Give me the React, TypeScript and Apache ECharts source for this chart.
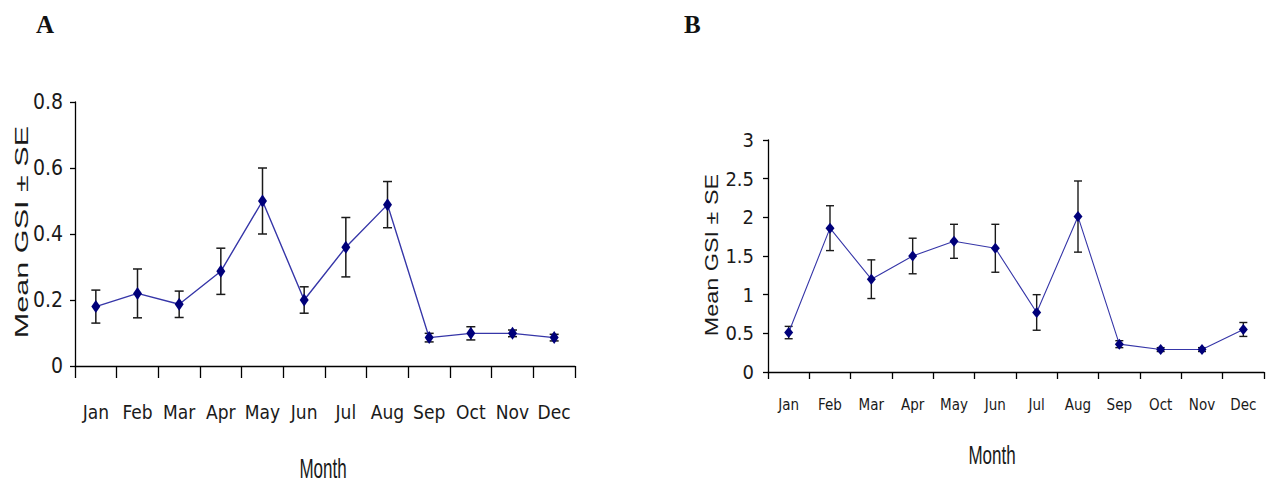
import React, { useEffect, useRef } from "react";
import * as echarts from "echarts";

const months = ["Jan", "Feb", "Mar", "Apr", "May", "Jun", "Jul", "Aug", "Sep", "Oct", "Nov", "Dec"];

// Panel A
const meanA = [0.18, 0.22, 0.187, 0.287, 0.5, 0.2, 0.36, 0.489, 0.086, 0.099, 0.099, 0.086];
const seA = [0.05, 0.074, 0.04, 0.07, 0.1, 0.04, 0.09, 0.07, 0.013, 0.02, 0.01, 0.01];
const ticksA = { min: 0, max: 0.8, interval: 0.2 };

// Panel B
const meanB = [0.51, 1.86, 1.2, 1.5, 1.69, 1.6, 0.77, 2.01, 0.36, 0.29, 0.29, 0.55];
const seB = [0.08, 0.29, 0.25, 0.23, 0.22, 0.31, 0.23, 0.46, 0.045, 0.025, 0.025, 0.09];
const ticksB = { min: 0, max: 3, interval: 0.5 };

const yTitle = "Mean GSI ± SE";
const xTitle = "Month";

const NARROW = "'Liberation Sans Narrow', 'DejaVu Sans Condensed', 'Arial Narrow', Arial, sans-serif";
const SANS = "'Liberation Sans', Arial, sans-serif";

function errData(mean: number[], se: number[]) {
  return mean.map((m, i) => [i, m - se[i], m + se[i]]);
}

function errRender(capHalf: number, width: number) {
  return (params: any, api: any) => {
    const x = api.value(0);
    const lo = api.coord([x, api.value(1)]);
    const hi = api.coord([x, api.value(2)]);
    const st = { stroke: "#1a1a1a", lineWidth: width };
    return {
      type: "group",
      children: [
        { type: "line", shape: { x1: hi[0], y1: hi[1], x2: lo[0], y2: lo[1] }, style: st },
        { type: "line", shape: { x1: hi[0] - capHalf, y1: hi[1], x2: hi[0] + capHalf, y2: hi[1] }, style: st },
        { type: "line", shape: { x1: lo[0] - capHalf, y1: lo[1], x2: lo[0] + capHalf, y2: lo[1] }, style: st },
      ],
    };
  };
}

export default function App() {
  const ref = useRef<HTMLDivElement>(null);
  useEffect(() => {
    if (!ref.current) return;
    const chart = echarts.init(ref.current, null, { renderer: "svg" });
    const axisLine = { show: true, lineStyle: { color: "#000", width: 1.3 } };
    const fmt = (v: number) => (v === 0 ? "0" : String(Math.round(v * 10) / 10));
    chart.setOption({
      animation: false,
      backgroundColor: "#fff",
      grid: [
        { left: 75, top: 102, width: 500, height: 264 },
        { left: 768, top: 140, width: 496, height: 232 },
      ],
      xAxis: [
        {
          type: "category", gridIndex: 0, data: months, boundaryGap: true,
          axisLine, axisTick: { show: true, length: 12, lineStyle: { color: "#000", width: 1.3 } },
          axisLabel: { interval: 0, margin: 36, fontSize: 19, fontFamily: NARROW, color: "#1a1a1a" },
        },
        {
          type: "category", gridIndex: 1, data: months, boundaryGap: true,
          axisLine, axisTick: { show: true, length: 7, lineStyle: { color: "#000", width: 1.3 } },
          axisLabel: { interval: 0, margin: 25, fontSize: 15, fontFamily: NARROW, color: "#1a1a1a" },
        },
      ],
      yAxis: [
        {
          type: "value", gridIndex: 0, ...ticksA,
          axisLine, axisTick: { show: true, length: 5, lineStyle: { color: "#000", width: 1.3 } },
          splitLine: { show: false },
          axisLabel: { margin: 12, fontSize: 21, fontFamily: NARROW, color: "#1a1a1a", formatter: fmt },
        },
        {
          type: "value", gridIndex: 1, ...ticksB,
          axisLine, axisTick: { show: true, length: 5, lineStyle: { color: "#000", width: 1.3 } },
          splitLine: { show: false },
          axisLabel: { margin: 14, fontSize: 20, fontFamily: NARROW, color: "#1a1a1a", formatter: fmt },
        },
      ],
      series: [
        {
          type: "custom", xAxisIndex: 0, yAxisIndex: 0, z: 1,
          data: errData(meanA, seA), renderItem: errRender(4.5, 1.5),
        },
        {
          type: "line", xAxisIndex: 0, yAxisIndex: 0, z: 3, data: meanA,
          symbol: "diamond", symbolSize: [9, 13],
          lineStyle: { color: "#3636a8", width: 1.4 },
          itemStyle: { color: "#00007a" },
        },
        {
          type: "custom", xAxisIndex: 1, yAxisIndex: 1, z: 1,
          data: errData(meanB, seB), renderItem: errRender(4, 1.4),
        },
        {
          type: "line", xAxisIndex: 1, yAxisIndex: 1, z: 3, data: meanB,
          symbol: "diamond", symbolSize: [9, 11],
          lineStyle: { color: "#3636a8", width: 1.1 },
          itemStyle: { color: "#00007a" },
        },
      ],
      graphic: [
        { type: "text", left: 36, top: 12, style: { text: "A", font: "bold 25px 'Liberation Serif', 'Times New Roman', serif", fill: "#111" } },
        { type: "text", left: 684, top: 12, style: { text: "B", font: "bold 25px 'Liberation Serif', 'Times New Roman', serif", fill: "#111" } },
        {
          type: "text", x: 22, y: 232, rotation: Math.PI / 2, scaleX: 1.7,
          style: { text: yTitle, font: `18px ${SANS}`, fill: "#1a1a1a", align: "center", verticalAlign: "middle" },
        },
        {
          type: "text", x: 712, y: 255, rotation: Math.PI / 2, scaleX: 1.3,
          style: { text: yTitle, font: `18px ${SANS}`, fill: "#1a1a1a", align: "center", verticalAlign: "middle" },
        },
        {
          type: "text", x: 323, y: 468, scaleY: 1.6,
          style: { text: xTitle, font: `17px ${SANS}`, fill: "#1a1a1a", align: "center", verticalAlign: "middle" },
        },
        {
          type: "text", x: 992, y: 455, scaleY: 1.5,
          style: { text: xTitle, font: `17px ${SANS}`, fill: "#1a1a1a", align: "center", verticalAlign: "middle" },
        },
      ],
    });
    return () => chart.dispose();
  }, []);
  return <div ref={ref} style={{ position: "fixed", left: 0, top: 0, width: 1274, height: 483 }} />;
}
